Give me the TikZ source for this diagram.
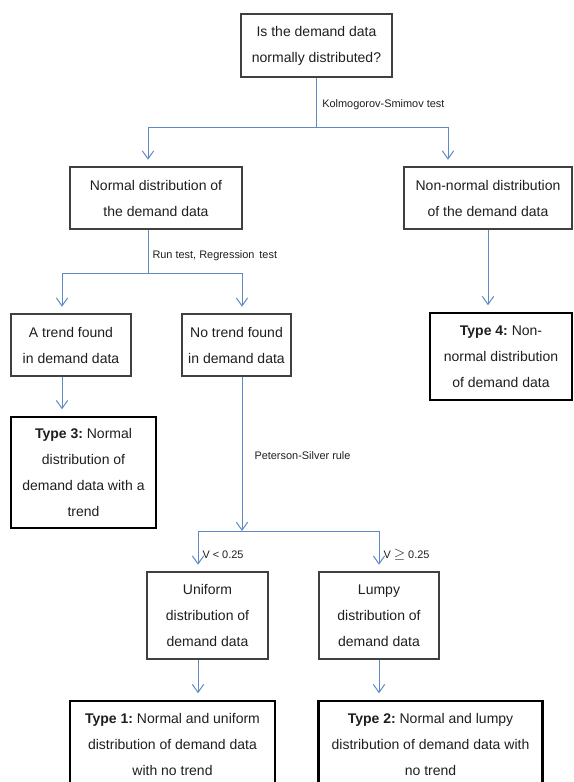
\documentclass[tikz,border=0pt]{standalone}
\usepackage{fontspec}
\setmainfont{Liberation Sans}
\usetikzlibrary{arrows.meta}
\frenchspacing

\tikzset{every picture/.style={line width=0.75pt}}
\tikzset{
  box/.style={draw={rgb, 255:red, 64; green, 64; blue, 64 }, line width=0.9pt, inner sep=0pt, align=center,
    text={rgb, 255:red, 30; green, 30; blue, 30 }, font=\fontsize{10.5}{19.5}\selectfont},
  typebox/.style={box, draw=black, line width=1.6pt},
  link/.style={color={rgb, 255:red, 95; green, 137; blue, 196 }, line width=0.75pt},
  arr/.style={link, -{Straight Barb[length=6pt,width=8.5pt]}},
  gap/.style={shorten >=5pt},
  lbl/.style={text={rgb, 255:red, 30; green, 30; blue, 30 }, font=\fontsize{8.2}{10}\selectfont, anchor=west, inner sep=3pt}
}

\begin{document}
\begin{tikzpicture}[x=0.75pt,y=0.75pt,yscale=-1,xscale=1]
\useasboundingbox (0,0) rectangle (574,782);

% Text Node
\node [box, minimum width=113.25pt, minimum height=47.25pt] (q) at (316.5,45.5) {Is the demand data\\normally distributed?};
% Text Node
\node [box, minimum width=129pt, minimum height=46.5pt] (norm) at (156,198) {Normal distribution of\\the demand data};
% Text Node
\node [box, minimum width=126pt, minimum height=46.5pt] (nonn) at (488,198) {Non-normal distribution\\of the demand data};
% Text Node
\node [box, minimum width=90pt, minimum height=46.5pt] (trend) at (71,345) {A trend found\\in demand data};
% Text Node
\node [box, minimum width=81.75pt, minimum height=46.5pt] (notrend) at (236.5,345) {No trend found\\in demand data};
% Text Node
\node [typebox, minimum width=108.75pt, minimum height=83.25pt] (type3) at (83.5,472.5) {\textbf{Type 3:} Normal\\distribution of\\demand data with a\\trend};
% Text Node
\node [typebox, minimum width=106.5pt, minimum height=65.25pt] (type4) at (501,356.5) {\textbf{Type 4:} Non-\\normal distribution\\of demand data};
% Text Node
\node [box, minimum width=90.75pt, minimum height=65.25pt] (unif) at (207.5,615.5) {Uniform\\distribution of\\demand data};
% Text Node
\node [box, minimum width=90pt, minimum height=65.25pt] (lumpy) at (379,615.5) {Lumpy\\distribution of\\demand data};
% Text Node
\node [typebox, minimum width=153.75pt, minimum height=64.5pt] (type1) at (172.5,744) {\textbf{Type 1:} Normal and uniform\\distribution of demand data\\with no trend};
% Text Node
\node [typebox, minimum width=168pt, minimum height=64.5pt] (type2) at (430.5,744) {\textbf{Type 2:} Normal and lumpy\\distribution of demand data with\\no trend};

% branch points
\coordinate (barA1) at (148,127);
\coordinate (barA2) at (448,127);
\coordinate (barB1) at (62,273);
\coordinate (barB2) at (242,273);
\coordinate (barC1) at (198,531);
\coordinate (barC2) at (379,531);

%Straight Lines
\draw [link] (q) -- (q |- barA1) node [lbl, midway, xshift=1pt, yshift=-2pt] {Kolmogorov-Smimov test};
\draw [link] (barA1) -- (barA2);
\draw [arr, gap] (barA1) -- (barA1 |- norm.north);
\draw [arr, gap] (barA2) -- (barA2 |- nonn.north);

%Straight Lines
\draw [link] (norm.south -| barA1) -- (barA1 |- barB1) node [lbl, midway, yshift=-3pt] {Run test, Regression\, test};
\draw [link] (barB1) -- (barB2);
\draw [arr, gap] (barB1) -- (barB1 |- trend.north);
\draw [arr, gap] (barB2) -- (barB2 |- notrend.north);
\draw [arr, gap] (trend.south -| barB1) -- (type3.north -| barB1);
\draw [arr, gap] (nonn.south) -- (type4.north -| nonn.south);

%Straight Lines
\draw [arr] (notrend.south -| barB2) -- (barB2 |- barC1) node [lbl, midway, xshift=6pt, yshift=-1pt] {Peterson-Silver rule};
\draw [link] (barC1) -- (barC2);
\draw [arr, gap] (barC1) -- (barC1 |- unif.north) node [lbl, midway, yshift=-3pt] {V < 0.25};
\draw [arr, gap] (barC2) -- (barC2 |- lumpy.north) node [lbl, midway, yshift=-3pt] {V {\fontsize{11}{11}\selectfont$\geq$} 0.25};
\draw [arr, gap] (unif.south -| barC1) -- (type1.north -| barC1);
\draw [arr, gap] (lumpy.south -| barC2) -- (type2.north -| barC2);

\end{tikzpicture}
\end{document}
